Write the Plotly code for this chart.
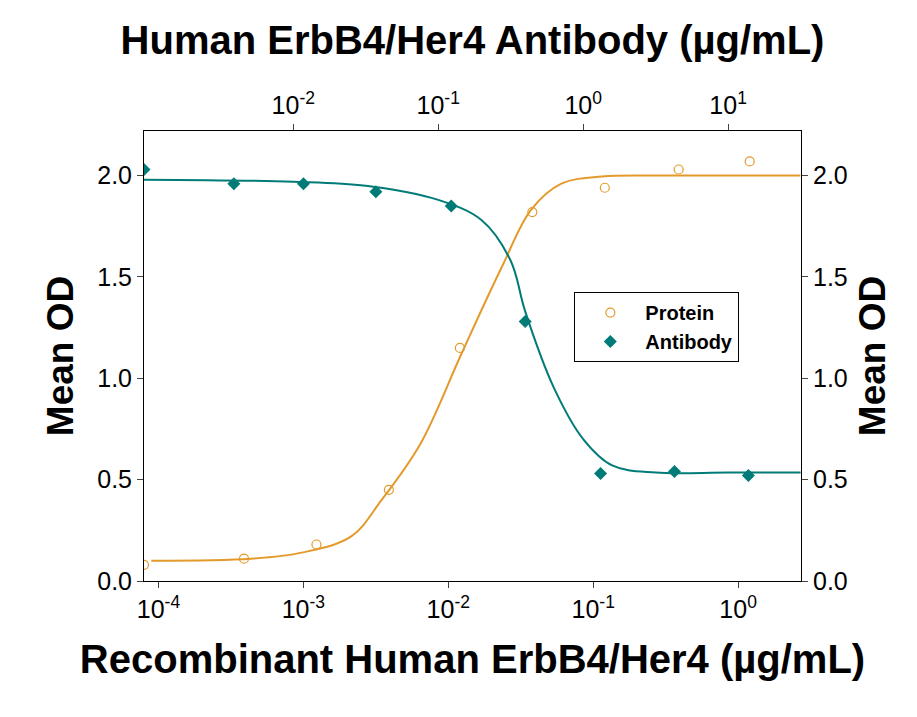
import plotly.graph_objects as go

# protein: recombinant ErbB4 (bottom axis, log10 conc)
prot_logx = [-4.1, -3.41, -2.91, -2.41, -1.92, -1.42, -0.92, -0.41, 0.08]
prot_od = [0.08, 0.11, 0.18, 0.45, 1.15, 1.82, 1.94, 2.03, 2.07]
prot_curve_logx = [-4.05, -3.36, -3.01, -2.67, -2.46, -2.19, -1.91, -1.63, -1.43, -1.22, -0.94, -0.5, 0.43]
prot_curve_od = [0.1, 0.11, 0.14, 0.22, 0.4, 0.68, 1.12, 1.55, 1.83, 1.96, 1.995, 2.0, 2.0]

# antibody (top axis, log10 conc)
ab_logx = [-3.03, -2.41, -1.93, -1.43, -0.91, -0.40, 0.12, 0.63, 1.14]
ab_od = [2.03, 1.96, 1.96, 1.92, 1.85, 1.28, 0.53, 0.54, 0.52]
ab_curve_logx = [-3.03, -2.0, -1.5, -1.0, -0.7, -0.5, -0.4, -0.2, 0.0, 0.2, 0.5, 1.0, 1.5]
ab_curve_od = [1.98, 1.97, 1.95, 1.88, 1.78, 1.58, 1.33, 0.95, 0.7, 0.57, 0.535, 0.535, 0.535]

bottom_ticks = [-4, -3, -2, -1, 0]
top_ticks = [-2, -1, 0, 1]
y_ticks = [0.0, 0.5, 1.0, 1.5, 2.0]

ORANGE = "#E39A2B"
TEAL = "#007B77"
FONT = "Liberation Sans, Arial, sans-serif"


def pow_label(v):
    return "10<sup>%d</sup>" % v


fig = go.Figure()
fig.add_trace(go.Scatter(x=[10 ** v for v in prot_curve_logx], y=prot_curve_od, mode="lines",
                         line=dict(color=ORANGE, width=2, shape="spline"), showlegend=False))
fig.add_trace(go.Scatter(x=[10 ** v for v in prot_logx], y=prot_od, mode="markers", name="<b>Protein</b>",
                         marker=dict(symbol="circle-open", size=9, color=ORANGE, line=dict(width=1.2))))
fig.add_trace(go.Scatter(x=[10 ** v for v in ab_curve_logx], y=ab_curve_od, mode="lines", xaxis="x2",
                         line=dict(color=TEAL, width=2, shape="spline"), showlegend=False))
fig.add_trace(go.Scatter(x=[10 ** v for v in ab_logx], y=ab_od, mode="markers", name="<b>Antibody</b>", xaxis="x2",
                         marker=dict(symbol="diamond", size=10, color=TEAL)))
# invisible trace to show the right y axis
fig.add_trace(go.Scatter(x=[1], y=[None], yaxis="y2", showlegend=False, hoverinfo="skip"))

axis_common = dict(showline=True, linecolor="black", linewidth=1, ticks="outside", ticklen=6,
                   showgrid=False, zeroline=False, automargin=False,
                   tickfont=dict(size=25, color="black", family=FONT))

fig.update_layout(
    width=917, height=717,
    paper_bgcolor="white", plot_bgcolor="white",
    margin=dict(l=136, r=124, t=123, b=144),
    font=dict(family=FONT, color="black"),
    xaxis=dict(type="log", range=[-4.1, 0.434], tickvals=[10 ** v for v in bottom_ticks],
               ticktext=[pow_label(v) for v in bottom_ticks],
               title=dict(text="<b>Recombinant Human ErbB4/Her4 (µg/mL)</b>", font=dict(size=40), standoff=22),
               **axis_common),
    xaxis2=dict(type="log", range=[-3.03, 1.503], overlaying="x", side="top",
                tickvals=[10 ** v for v in top_ticks], ticktext=[pow_label(v) for v in top_ticks],
                title=dict(text="<b>Human ErbB4/Her4 Antibody (µg/mL)</b>", font=dict(size=40), standoff=20),
                **axis_common),
    yaxis=dict(range=[0, 2.22], tickvals=y_ticks, ticktext=["%.1f" % v for v in y_ticks],
               title=dict(text="<b>Mean OD</b>", font=dict(size=37), standoff=12), **axis_common),
    yaxis2=dict(range=[0, 2.22], overlaying="y", side="right", tickvals=y_ticks,
                ticktext=["%.1f" % v for v in y_ticks],
                title=dict(text="<b>Mean OD</b>", font=dict(size=37), standoff=12), **axis_common),
    legend=dict(x=0.655, y=0.642, xanchor="left", yanchor="top", bordercolor="black", borderwidth=1,
                bgcolor="white", font=dict(size=20, family=FONT), itemwidth=60,
                tracegroupgap=4),
)

fig.write_html("out.html")
